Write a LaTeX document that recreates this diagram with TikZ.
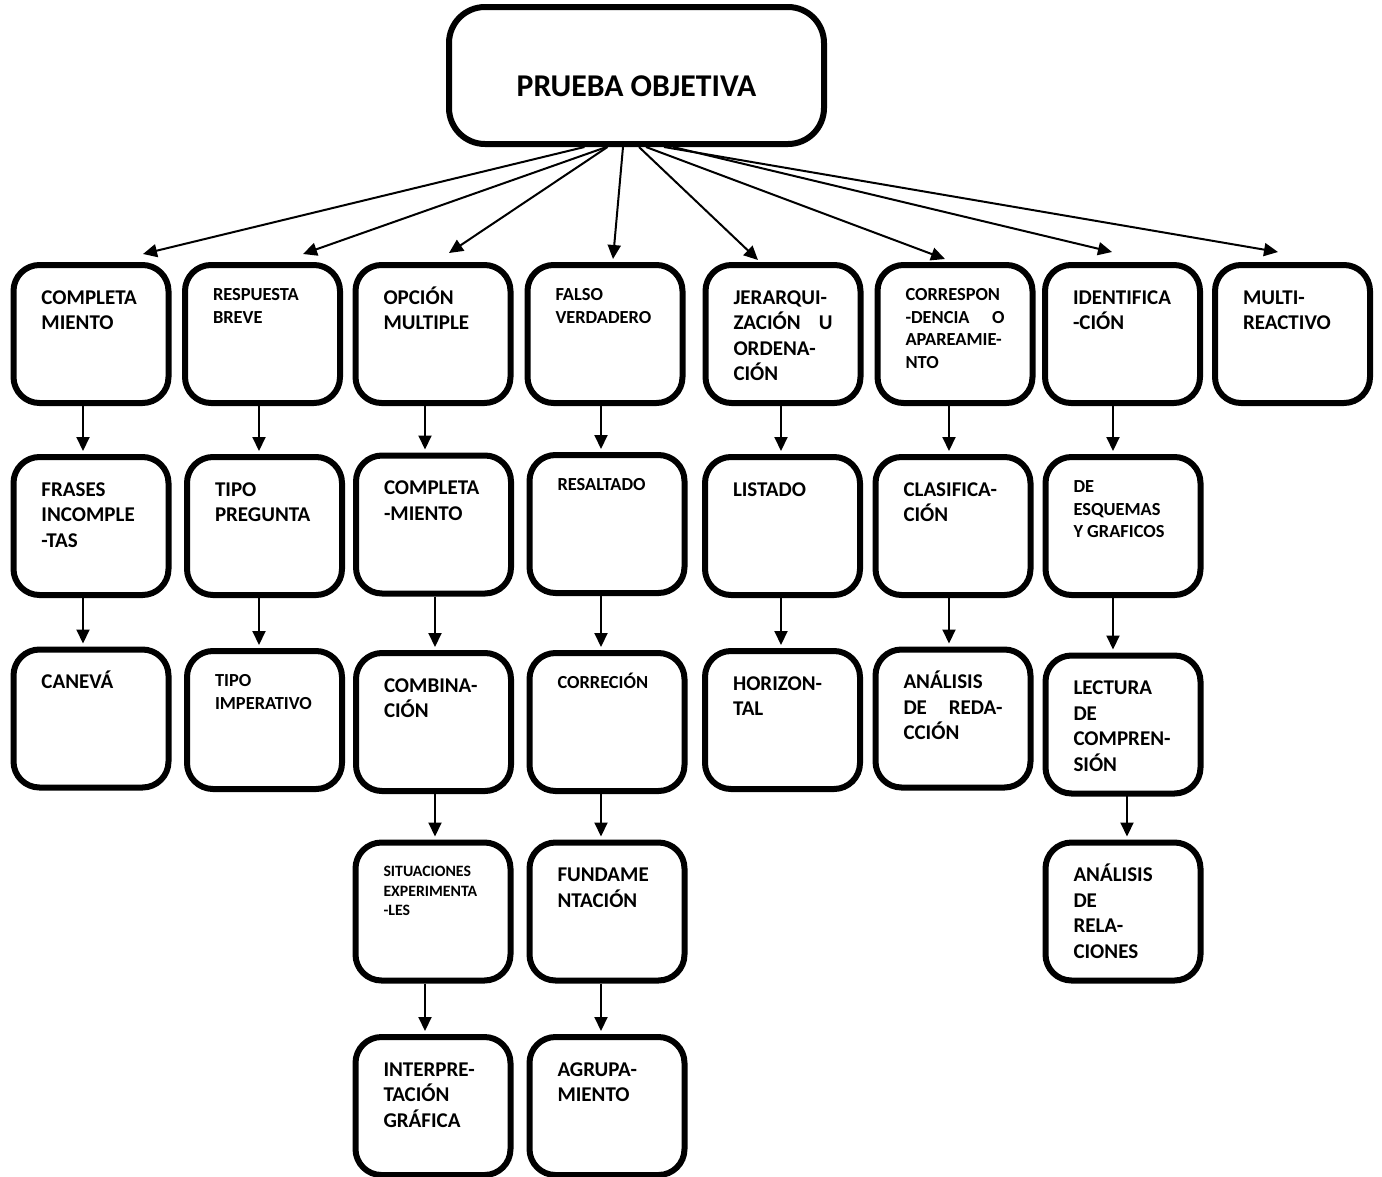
\documentclass[tikz,border=0pt]{standalone}
\usepackage{fontspec}
\setmainfont{Carlito}
\usetikzlibrary{arrows.meta,calc}

% type sizes used inside the boxes
\newcommand\mainsz{\fontsize{21}{25.5}\selectfont}
\newcommand\smallsz{\fontsize{18.4}{22.5}\selectfont}
\newcommand\tinysz{\fontsize{15.8}{19.5}\selectfont}

% top-left aligned text blocks for the boxes
\newcommand\txtM[1]{\parbox[t][98pt][t]{99pt}{\mainsz\bfseries\raggedright\rule{0pt}{19.3pt}#1}}
\newcommand\txtS[1]{\parbox[t][98pt][t]{99pt}{\smallsz\bfseries\raggedright\rule{0pt}{15.6pt}#1}}
\newcommand\txtT[1]{\parbox[t][98pt][t]{99pt}{\tinysz\bfseries\raggedright\rule{0pt}{14pt}#1}}

\tikzset{
  box/.style={draw, line width=6pt, rounded corners=26pt,
    minimum width=155pt, minimum height=138pt, inner sep=0pt},
  topbox/.style={draw, line width=6pt, rounded corners=36pt,
    minimum width=375pt, minimum height=137pt, inner sep=0pt,
    font=\fontsize{31.7}{38}\selectfont\bfseries,
    text height=45pt, text depth=4pt},
  arr/.style={line width=2pt, -{Triangle[length=14pt,width=13pt]}}
}

\begin{document}
\begin{tikzpicture}[x=1pt,y=-1pt]
\fill[white] (0,0) rectangle (1382,1176);
\useasboundingbox (0,0) rectangle (1382,1176);

% root
\node[topbox] (top) at (636.5,75.5) {PRUEBA OBJETIVA};

% first level
\node[box] (c1) at (91,334)     {\txtM{COMPLETA\\MIENTO}};
\node[box] (c2) at (262.5,334)  {\txtS{RESPUESTA\\BREVE}};
\node[box] (c3) at (433,334)    {\txtM{OPCIÓN\\MULTIPLE}};
\node[box] (c4) at (605,334)    {\txtS{FALSO\\VERDADERO}};
\node[box] (c5) at (783,334)    {\txtM{JERARQUI-\\ZACIÓN\hfill U\\ORDENA-\\CIÓN}};
\node[box] (c6) at (955,334)    {\txtS{CORRESPON\\-DENCIA\hfill O\\APAREAMIE-\\NTO}};
\node[box] (c7) at (1122.5,334) {\txtM{IDENTIFICA\\-CIÓN}};
\node[box] (c8) at (1292.5,334) {\txtM{MULTI-\\REACTIVO}};

% second level
\node[box] (f1) at (91,526)     {\txtM{FRASES\\INCOMPLE\\-TAS}};
\node[box] (f2) at (264.5,526)  {\txtM{TIPO\\PREGUNTA}};
\node[box] (f3) at (433.5,524.5){\txtM{COMPLETA\\-MIENTO}};
\node[box] (f4) at (607,524)    {\txtS{RESALTADO}};
\node[box] (f5) at (782.5,526)  {\txtM{LISTADO}};
\node[box] (f6) at (953,526)    {\txtM{CLASIFICA-\\CIÓN}};
\node[box] (f7) at (1123,526)   {\txtS{DE\\ESQUEMAS\\Y GRAFICOS}};

% third level
\node[box] (k1) at (91,718.5)   {\txtM{CANEVÁ}};
\node[box] (k2) at (264.5,720)  {\txtS{TIPO\\IMPERATIVO}};
\node[box] (k3) at (433.5,722)  {\txtM{COMBINA-\\CIÓN}};
\node[box] (k4) at (607,722)    {\txtS{CORRECIÓN}};
\node[box] (k5) at (782.5,720)  {\txtM{HORIZON-\\TAL}};
\node[box] (k6) at (953,718.5)  {\txtM{ANÁLISIS\\DE\hfill REDA-\\CCIÓN}};
\node[box] (k7) at (1123,724.5) {\txtM{LECTURA\\DE\\COMPREN-\\SIÓN}};

% fourth level
\node[box] (s3) at (433,911.5)  {\txtT{SITUACIONES\\EXPERIMENTA\\-LES}};
\node[box] (s4) at (607,911.5)  {\txtM{FUNDAME\\NTACIÓN}};
\node[box] (s7) at (1123,911.5) {\txtM{ANÁLISIS\\DE\\RELA-\\CIONES}};

% fifth level
\node[box] (i3) at (433,1106)   {\txtM{INTERPRE-\\TACIÓN\\GRÁFICA}};
\node[box] (i4) at (607,1106)   {\txtM{AGRUPA-\\MIENTO}};

% fan-out from the root
\draw[arr] ([shift={(-52,0)}]top.south)   -- ([shift={(52,-8)}]c1.north);
\draw[arr] ([shift={(-30,0)}]top.south)   -- ([shift={(40.5,-8)}]c2.north);
\draw[arr] ([shift={(-29,0)}]top.south)   -- ([shift={(16,-9)}]c3.north);
\draw[arr] ([shift={(-13.5,0)}]top.south) -- ([shift={(8,-3)}]c4.north);
\draw[arr] ([shift={(2.5,0)}]top.south)   -- ([shift={(-25,-2)}]c5.north);
\draw[arr] ([shift={(9.5,0)}]top.south)   -- ([shift={(-10,-3)}]c6.north);
\draw[arr] ([shift={(36.5,0)}]top.south)  -- ([shift={(-10.5,-10)}]c7.north);
\draw[arr] ([shift={(27.5,0)}]top.south)  -- ([shift={(-14.5,-10)}]c8.north);

% column chains
\draw[arr] ([shift={(-8,0)}]c1.south) -- ($(c1.south |- f1.north)+(-8,-3)$);
\draw[arr] ([shift={(-8,0)}]f1.south) -- ($(f1.south |- k1.north)+(-8,-3)$);

\draw[arr] ([shift={(-3.5,0)}]c2.south) -- ($(c2.south |- f2.north)+(-3.5,-3)$);
\draw[arr] ([shift={(-5.5,0)}]f2.south) -- ($(f2.south |- k2.north)+(-5.5,-3)$);

\draw[arr] ([shift={(-8,0)}]c3.south) -- ($(c3.south |- f3.north)+(-8,-3)$);
\draw[arr] ([shift={(1.5,0)}]f3.south) -- ($(f3.south |- k3.north)+(1.5,-3)$);
\draw[arr] ([shift={(1.5,-6)}]k3.south) -- ($(k3.south |- s3.north)+(1.5,-3)$);
\draw[arr] ([shift={(-8,0)}]s3.south) -- ($(s3.south |- i3.north)+(-8,-3)$);

\draw[arr] ([shift={(-4,0)}]c4.south) -- ($(c4.south |- f4.north)+(-4,-3)$);
\draw[arr] ([shift={(-6,0)}]f4.south) -- ($(f4.south |- k4.north)+(-6,-3)$);
\draw[arr] ([shift={(-6,0)}]k4.south) -- ($(k4.south |- s4.north)+(-6,-3)$);
\draw[arr] ([shift={(-6,0)}]s4.south) -- ($(s4.south |- i4.north)+(-6,-3)$);

\draw[arr] ([shift={(-2,0)}]c5.south) -- ($(c5.south |- f5.north)+(-2,-3)$);
\draw[arr] ([shift={(-1.5,0)}]f5.south) -- ($(f5.south |- k5.north)+(-1.5,-3)$);

\draw[arr] ([shift={(-6,0)}]c6.south) -- ($(c6.south |- f6.north)+(-6,-3)$);
\draw[arr] ([shift={(-4,0)}]f6.south) -- ($(f6.south |- k6.north)+(-4,-3)$);

\draw[arr] ([shift={(-9.5,0)}]c7.south) -- ($(c7.south |- f7.north)+(-9.5,-3)$);
\draw[arr] ([shift={(-10,0)}]f7.south) -- ($(f7.south |- k7.north)+(-10,-3)$);
\draw[arr] ([shift={(4,-5.5)}]k7.south) -- ($(k7.south |- s7.north)+(4,-3)$);
\end{tikzpicture}
\end{document}
